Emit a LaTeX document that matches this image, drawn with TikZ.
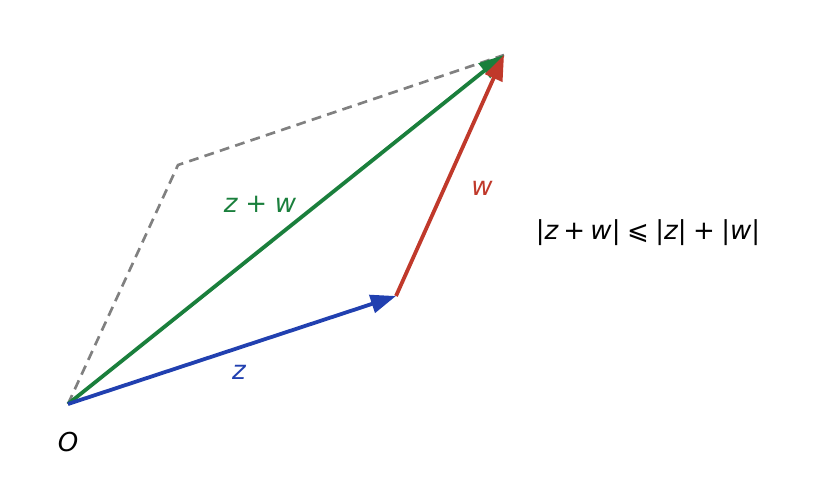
\documentclass[tikz,border=0pt]{standalone}
\usepackage{fontspec}
\usepackage{tikz}
\usetikzlibrary{arrows.meta,positioning}
\newfontfamily\dejavu{DejaVu Sans}
\definecolor{zblue}{RGB}{33,64,176}
\definecolor{wred}{RGB}{192,57,43}
\definecolor{sgreen}{RGB}{26,127,60}
\definecolor{pgray}{RGB}{128,128,128}
\tikzset{
  vec/.style={line width=2.7pt,-{Triangle[length=18pt,width=13pt]}},
  side/.style={pgray,line width=1.9pt,dash pattern=on 7pt off 4.5pt},
  lbl/.style={font=\dejavu\itshape\fontsize{18.5}{22}\selectfont}
}
\begin{document}
\begin{tikzpicture}[x=0.025cm,y=-0.025cm]
    \useasboundingbox (0,0) rectangle (820,495);
    \coordinate (O) at (68, 404);
    \coordinate (Z) at (396, 296);
    \coordinate (S) at (504, 55);
    \coordinate (W) at (178, 165);

    \draw [side] (O) -- (W) -- (S);
    \draw [vec,sgreen] (O) -- (S);
    \draw [vec,wred] (Z) -- (S);
    \draw [vec,zblue] (O) -- (Z);

    \node [lbl] (o) at (68, 442) {O};
    \node [lbl,zblue] (zl) at (239, 372) {z};
    \node [lbl,wred] (wl) at (482, 188) {w};
    \node [lbl,sgreen] (sl) at (260, 204) {z\hspace{0.3em}+\hspace{0.3em}w};
    \node [lbl] (ineq) at (648, 233) {|z\hspace{0.2em}+\hspace{0.2em}w|\hspace{0.25em}{\upshape ⩽}\hspace{0.25em}|z|\hspace{0.25em}+\hspace{0.25em}|w|};
  \end{tikzpicture}
\end{document}
